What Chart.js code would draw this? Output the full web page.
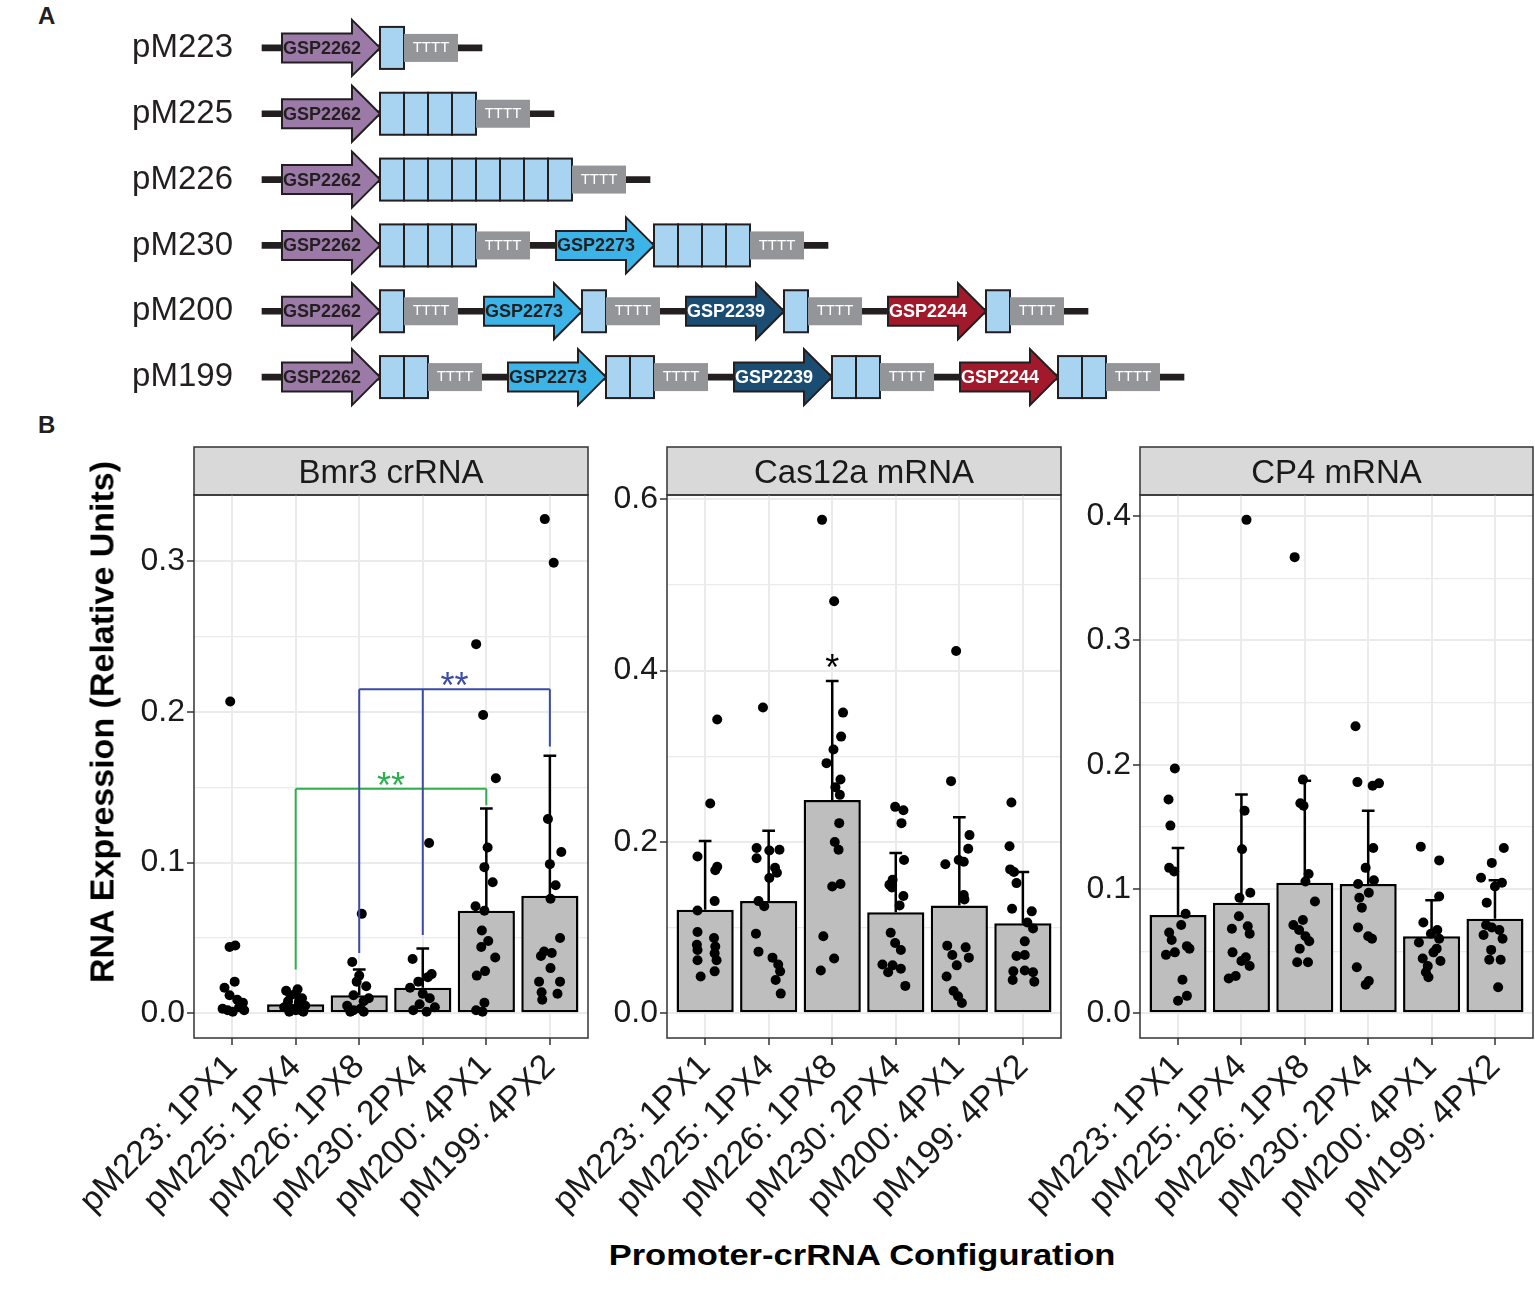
<!DOCTYPE html>
<html>
<head>
<meta charset="utf-8">
<script src="https://cdn.jsdelivr.net/npm/chart.js@4.4.1/dist/chart.umd.min.js"></script>
<style>
  body { margin: 0; background: #fff; width: 1535px; height: 1293px; position: relative; overflow: hidden;
         font-family: 'Liberation Sans', Arial, Helvetica, sans-serif; }
  .wrap { position: absolute; }
  .tag { position: absolute; font-weight: bold; font-size: 24px; line-height: 24px; color: #231f20; }
  #ytitle { position: absolute; left: 102px; top: 722px; transform: translate(-50%, -50%) rotate(-90deg);
            font-weight: bold; font-size: 34px; white-space: nowrap; color: #000; }
  #xtitle { position: absolute; left: 862px; top: 1240px; line-height: 30px; transform: translateX(-50%) scaleX(1.15);
            font-weight: bold; font-size: 30px; white-space: nowrap; color: #000; }
</style>
</head>
<body>
<div class="tag" style="left:38px;top:4px">A</div>
<div class="tag" style="left:38px;top:413px">B</div>
<div class="wrap" style="left:0;top:0;width:1535px;height:411px"><canvas id="constructs"></canvas></div>
<div class="wrap" style="left:54px;top:440px;width:539px;height:785px"><canvas id="bmr3"></canvas></div>
<div class="wrap" style="left:527px;top:440px;width:539px;height:785px"><canvas id="cas12a"></canvas></div>
<div class="wrap" style="left:1000px;top:440px;width:538px;height:785px"><canvas id="cp4"></canvas></div>
<div id="ytitle">RNA Expression (Relative Units)</div>
<div id="xtitle">Promoter-crRNA Configuration</div>
<script>
// ---- panel A: constructs ----
const constructs = ['pM223', 'pM225', 'pM226', 'pM230', 'pM200', 'pM199'];
const constructPromoters = [
  ['GSP2262'],
  ['GSP2262'],
  ['GSP2262'],
  ['GSP2262', 'GSP2273'],
  ['GSP2262', 'GSP2273', 'GSP2239', 'GSP2244'],
  ['GSP2262', 'GSP2273', 'GSP2239', 'GSP2244']
];
const constructRepeats = [[1], [4], [8], [4, 4], [1, 1, 1, 1], [2, 2, 2, 2]];
const terminatorText = 'TTTT';

// ---- panel B: expression ----
const configs = ['pM223: 1PX1', 'pM225: 1PX4', 'pM226: 1PX8', 'pM230: 2PX4', 'pM200: 4PX1', 'pM199: 4PX2'];

const bmr3Mean = [null, 0.006, 0.012, 0.017, 0.068, 0.078];
const bmr3Upper = [null, 0.011, 0.029, 0.043, 0.136, 0.171];
// each point: [jitter offset, value]
const bmr3Points = [
  [[-0.03,0.207],[0.05,0.045],[-0.04,0.044],[0.04,0.021],[-0.12,0.017],[-0.04,0.012],[0.08,0.009],[0.17,0.007],[0.11,0.004],[-0.15,0.003],[-0.07,0.002],[0.19,0.002],[0.01,0.001]],
  [[-0.15,0.015],[0.03,0.016],[0.0,0.013],[-0.08,0.012],[0.1,0.010],[-0.12,0.008],[0.05,0.007],[0.15,0.005],[-0.18,0.004],[-0.05,0.003],[0.08,0.002],[-0.1,0.001],[0.12,0.001],[0.0,0.002]],
  [[0.04,0.066],[-0.11,0.034],[0.0,0.025],[-0.04,0.021],[0.11,0.018],[-0.09,0.012],[0.15,0.010],[0.07,0.008],[-0.19,0.005],[0.02,0.003],[-0.09,0.002],[0.07,0.001],[-0.14,0.001]],
  [[0.1,0.113],[-0.16,0.036],[0.14,0.026],[0.08,0.024],[-0.07,0.021],[-0.2,0.017],[0.0,0.013],[0.11,0.010],[-0.05,0.006],[0.19,0.004],[-0.15,0.002],[0.06,0.001]],
  [[-0.16,0.245],[-0.05,0.198],[0.15,0.156],[0.02,0.110],[-0.03,0.097],[0.1,0.087],[-0.17,0.071],[-0.03,0.068],[-0.07,0.055],[0.03,0.048],[-0.08,0.044],[0.14,0.037],[-0.02,0.028],[-0.15,0.025],[-0.03,0.007],[-0.16,0.002],[-0.06,0.001]],
  [[-0.08,0.328],[0.06,0.299],[-0.03,0.129],[0.18,0.107],[0.0,0.099],[0.09,0.085],[0.01,0.076],[0.16,0.050],[-0.09,0.041],[0.03,0.040],[-0.14,0.038],[0.01,0.030],[-0.17,0.021],[0.16,0.021],[-0.13,0.014],[0.12,0.013],[-0.12,0.009]]
];
const bmr3Ticks = [0, 0.05, 0.1, 0.15, 0.2, 0.25, 0.3];
const bmr3Range = [-0.0164, 0.344];
const bmr3SigHeights = [0.149, 0.215];
const bmr3SigLegs = [[[2, 0.029], [5, 0.138]], [[3, 0.040], [4, 0.052], [6, 0.177]]];
const bmr3SigText = ['**', '**'];
const bmr3SigTextAt = [3.5, 4.5];

const cas12aMean = [0.121, 0.131, 0.249, 0.118, 0.126, 0.105];
const cas12aUpper = [0.201, 0.213, 0.388, 0.187, 0.229, 0.165];
const cas12aPoints = [
  [[0.19,0.343],[0.08,0.245],[-0.12,0.183],[0.19,0.171],[0.16,0.167],[0.15,0.131],[-0.12,0.120],[-0.12,0.095],[0.14,0.088],[-0.13,0.080],[0.16,0.078],[-0.12,0.074],[0.15,0.070],[-0.12,0.062],[0.18,0.062],[0.15,0.049],[-0.07,0.043]],
  [[-0.09,0.357],[-0.19,0.193],[0.01,0.190],[0.17,0.191],[-0.19,0.181],[0.1,0.170],[0.13,0.164],[0.01,0.158],[-0.16,0.131],[-0.07,0.125],[-0.2,0.093],[-0.16,0.072],[0.06,0.065],[0.15,0.057],[0.18,0.049],[0.11,0.039],[0.19,0.023]],
  [[-0.16,0.576],[0.03,0.481],[0.17,0.351],[0.14,0.323],[0.02,0.308],[-0.09,0.292],[0.13,0.273],[0.05,0.264],[0.12,0.255],[0.11,0.222],[0.04,0.200],[0.10,0.191],[0.13,0.151],[0.0,0.148],[-0.14,0.090],[0.03,0.064],[-0.18,0.050]],
  [[-0.01,0.241],[0.12,0.237],[0.09,0.222],[0.13,0.179],[-0.05,0.156],[-0.10,0.150],[-0.06,0.147],[0.12,0.137],[0.06,0.126],[-0.08,0.094],[-0.01,0.082],[0.08,0.074],[-0.21,0.057],[-0.05,0.056],[0.08,0.052],[-0.12,0.048],[0.15,0.032]],
  [[-0.05,0.423],[-0.13,0.271],[0.16,0.208],[0.14,0.192],[-0.01,0.179],[0.07,0.177],[-0.22,0.174],[0.07,0.138],[0.08,0.133],[-0.19,0.079],[0.10,0.077],[-0.11,0.068],[0.15,0.065],[-0.04,0.056],[-0.20,0.043],[-0.09,0.026],[-0.02,0.020],[0.04,0.012]],
  [[-0.18,0.246],[-0.21,0.195],[-0.20,0.168],[-0.14,0.165],[-0.10,0.152],[-0.17,0.122],[0.14,0.119],[0.07,0.106],[0.16,0.099],[0.03,0.084],[-0.10,0.067],[0.03,0.068],[-0.15,0.049],[0.03,0.050],[0.16,0.048],[-0.16,0.039],[0.18,0.037]]
];
const cas12aTicks = [0, 0.1, 0.2, 0.3, 0.4, 0.5, 0.6];
const cas12aRange = [-0.0288, 0.605];
const cas12aStarCats = [3];
const cas12aStarAt = [0.40];
const cas12aStarText = ['*'];

const cp4Mean = [0.079, 0.089, 0.105, 0.104, 0.062, 0.076];
const cp4Upper = [0.133, 0.176, 0.187, 0.163, 0.091, 0.107];
const cp4Points = [
  [[-0.05,0.197],[-0.15,0.172],[-0.12,0.151],[-0.14,0.117],[-0.06,0.114],[0.12,0.080],[0.05,0.071],[-0.14,0.065],[-0.10,0.059],[0.14,0.054],[0.18,0.052],[-0.05,0.049],[-0.19,0.047],[0.07,0.027],[0.14,0.014],[0.0,0.010]],
  [[0.08,0.397],[0.05,0.163],[0.01,0.132],[0.14,0.097],[-0.03,0.093],[-0.04,0.078],[0.10,0.070],[-0.15,0.068],[0.13,0.064],[-0.14,0.049],[0.07,0.045],[0.0,0.042],[0.13,0.038],[-0.09,0.030],[-0.20,0.028]],
  [[-0.16,0.367],[-0.03,0.188],[-0.07,0.169],[-0.02,0.167],[0.06,0.112],[0.01,0.106],[0.16,0.090],[-0.03,0.075],[-0.18,0.071],[-0.09,0.067],[0.01,0.062],[0.07,0.058],[-0.08,0.052],[-0.12,0.041],[0.05,0.041]],
  [[-0.20,0.231],[-0.17,0.186],[0.07,0.183],[0.17,0.185],[0.08,0.133],[-0.04,0.117],[0.09,0.107],[-0.16,0.104],[0.01,0.097],[-0.14,0.093],[-0.10,0.085],[-0.16,0.069],[0.0,0.062],[0.06,0.060],[-0.18,0.037],[0.01,0.026],[-0.04,0.023]],
  [[-0.17,0.134],[0.12,0.123],[0.12,0.094],[-0.13,0.073],[0.09,0.067],[-0.01,0.064],[0.12,0.060],[-0.20,0.057],[0.08,0.052],[0.03,0.049],[-0.14,0.044],[0.14,0.042],[-0.06,0.038],[-0.09,0.033],[-0.05,0.029]],
  [[0.14,0.133],[-0.05,0.121],[-0.22,0.109],[0.11,0.105],[0.0,0.102],[-0.13,0.089],[-0.14,0.071],[-0.05,0.069],[0.07,0.067],[-0.18,0.063],[0.12,0.060],[-0.06,0.051],[-0.09,0.043],[0.09,0.043],[0.05,0.021]]
];
const cp4Ticks = [0, 0.05, 0.1, 0.15, 0.2, 0.25, 0.3, 0.35, 0.4];
const cp4Range = [-0.0199, 0.417];

// ---- styles ----
const FONT = "'Liberation Sans', Arial, Helvetica, sans-serif";
Chart.defaults.font.family = FONT;
Chart.defaults.color = '#1a1a1a';

const promoterFill = { GSP2262: '#9b7aa7', GSP2273: '#3cb4e7', GSP2239: '#1b4d72', GSP2244: '#a1192b' };
const promoterInk = { GSP2262: '#231f20', GSP2273: '#231f20', GSP2239: '#ffffff', GSP2244: '#ffffff' };
const sigColors = ['#2fae4e', '#3b4ba6'];
const INK = '#231f20';

// construct element sizes (x scale units)
const START = 12, LEAD = 20, ARROW = 98, HEAD = 28, BOX = 24, TERM = 54, LINK = 26, TAIL = 24;

function layoutConstruct(r) {
  const items = [];
  let x = START + LEAD;
  constructPromoters[r].forEach((p, k) => {
    if (k > 0) x += LINK;
    items.push({ kind: 'promoter', name: p, x0: x, x1: x + ARROW });
    x += ARROW;
    for (let b = 0; b < constructRepeats[r][k]; b++) {
      items.push({ kind: 'box', x0: x, x1: x + BOX });
      x += BOX;
    }
    items.push({ kind: 'term', x0: x, x1: x + TERM });
    x += TERM;
  });
  return { start: START, end: x + TAIL, items };
}

const constructDraw = {
  id: 'constructDraw',
  afterDatasetsDraw(chart) {
    const { ctx } = chart;
    const xs = chart.scales.x, ys = chart.scales.y;
    const u = v => xs.getPixelForValue(v);
    ctx.save();
    ctx.lineJoin = 'miter';
    constructs.forEach((name, r) => {
      const cy = ys.getPixelForValue(r);
      layoutConstruct(r).items.forEach(it => {
        const a = u(it.x0), b = u(it.x1);
        if (it.kind === 'promoter') {
          const h = u(it.x1 - HEAD);
          ctx.beginPath();
          ctx.moveTo(a, cy - 14.5);
          ctx.lineTo(h, cy - 14.5);
          ctx.lineTo(h, cy - 28);
          ctx.lineTo(b, cy);
          ctx.lineTo(h, cy + 28);
          ctx.lineTo(h, cy + 14.5);
          ctx.lineTo(a, cy + 14.5);
          ctx.closePath();
          ctx.fillStyle = promoterFill[it.name];
          ctx.fill();
          ctx.strokeStyle = INK;
          ctx.lineWidth = 2;
          ctx.stroke();
          ctx.fillStyle = promoterInk[it.name];
          ctx.font = 'bold 18px ' + FONT;
          ctx.textAlign = 'center';
          ctx.textBaseline = 'middle';
          ctx.fillText(it.name, u(it.x0 + 40), cy + 1);
        } else if (it.kind === 'box') {
          ctx.fillStyle = '#a9d4f1';
          ctx.fillRect(a, cy - 21, b - a, 42);
          ctx.strokeStyle = INK;
          ctx.lineWidth = 2;
          ctx.strokeRect(a, cy - 21, b - a, 42);
        } else {
          ctx.fillStyle = '#939598';
          ctx.fillRect(a, cy - 14, b - a, 28);
          ctx.fillStyle = '#ffffff';
          ctx.font = '15px ' + FONT;
          ctx.textAlign = 'center';
          ctx.textBaseline = 'middle';
          ctx.fillText(terminatorText, (a + b) / 2, cy);
        }
      });
    });
    ctx.restore();
  }
};

new Chart(document.getElementById('constructs'), {
  type: 'bar',
  data: {
    labels: constructs,
    datasets: [{
      data: constructs.map((c, r) => { const l = layoutConstruct(r); return [l.start, l.end]; }),
      backgroundColor: INK,
      barThickness: 6
    }]
  },
  options: {
    indexAxis: 'y',
    responsive: true,
    maintainAspectRatio: false,
    animation: false,
    layout: { padding: { top: 15, bottom: 1 } },
    scales: {
      x: { type: 'linear', min: 0, max: 1285, display: false },
      y: {
        type: 'category',
        grid: { display: false, drawTicks: false },
        border: { display: false },
        ticks: { font: { size: 33 }, color: INK, padding: 17 },
        afterFit: s => { s.width = 250; s.paddingTop = 0; s.paddingBottom = 0; }
      }
    },
    plugins: { legend: { display: false }, tooltip: { enabled: false } }
  },
  plugins: [constructDraw]
});

// ---- facet panels ----
const panelDecor = {
  id: 'panelDecor',
  beforeDraw(chart, args, opts) {
    const { ctx, chartArea: a } = chart;
    ctx.save();
    ctx.fillStyle = '#d9d9d9';
    ctx.fillRect(a.left, a.top - 48, a.right - a.left, 48);
    ctx.strokeStyle = '#333333';
    ctx.lineWidth = 1.5;
    ctx.strokeRect(a.left, a.top - 48, a.right - a.left, 48);
    ctx.fillStyle = '#1a1a1a';
    ctx.font = '33px ' + FONT;
    ctx.textAlign = 'center';
    ctx.textBaseline = 'alphabetic';
    ctx.fillText(opts.title, (a.left + a.right) / 2, a.top - 12);
    ctx.restore();
  },
  afterDatasetDraw(chart, args, opts) {
    if (args.meta.type !== 'bar') return;
    const { ctx } = chart;
    const xs = chart.scales.x, ys = chart.scales.y;
    const hw = xs.getPixelForValue(1.1) - xs.getPixelForValue(1);
    ctx.save();
    ctx.strokeStyle = '#000';
    ctx.lineWidth = 2.5;
    opts.mean.forEach((m, i) => {
      if (m === null) return;
      const px = xs.getPixelForValue(i + 1);
      const p0 = ys.getPixelForValue(m), p1 = ys.getPixelForValue(opts.upper[i]);
      ctx.beginPath();
      ctx.moveTo(px, p0);
      ctx.lineTo(px, p1);
      ctx.moveTo(px - hw, p1);
      ctx.lineTo(px + hw, p1);
      ctx.stroke();
    });
    ctx.restore();
  },
  afterDraw(chart, args, opts) {
    const { ctx, chartArea: a } = chart;
    const xs = chart.scales.x, ys = chart.scales.y;
    ctx.save();
    (opts.sigHeights || []).forEach((h, k) => {
      const yb = ys.getPixelForValue(h);
      const legs = opts.sigLegs[k];
      const px = legs.map(l => xs.getPixelForValue(l[0]));
      ctx.strokeStyle = opts.sigColors[k];
      ctx.lineWidth = 2;
      ctx.beginPath();
      ctx.moveTo(Math.min(...px), yb);
      ctx.lineTo(Math.max(...px), yb);
      legs.forEach((l, j) => {
        ctx.moveTo(px[j], yb);
        ctx.lineTo(px[j], ys.getPixelForValue(l[1]));
      });
      ctx.stroke();
      ctx.fillStyle = opts.sigColors[k];
      ctx.font = '36px ' + FONT;
      ctx.textAlign = 'center';
      ctx.textBaseline = 'alphabetic';
      ctx.fillText(opts.sigText[k], xs.getPixelForValue(opts.sigTextAt[k]), yb + 9);
    });
    (opts.starCats || []).forEach((c, k) => {
      ctx.fillStyle = '#000';
      ctx.font = '36px ' + FONT;
      ctx.textAlign = 'center';
      ctx.textBaseline = 'alphabetic';
      ctx.fillText(opts.starText[k], xs.getPixelForValue(c), ys.getPixelForValue(opts.starAt[k]) + 9);
    });
    ctx.strokeStyle = '#333333';
    ctx.lineWidth = 1.5;
    ctx.strokeRect(a.left, a.top, a.right - a.left, a.bottom - a.top);
    ctx.restore();
  }
};

function makePanel(id, title, mean, upper, points, yTicks, yRange, notes) {
  const bars = mean.map((m, i) => ({ x: i + 1, y: m })).filter(d => d.y !== null);
  const dots = [];
  points.forEach((grp, i) => grp.forEach(([dx, v]) => dots.push({ x: i + 1 + dx, y: v })));
  new Chart(document.getElementById(id), {
    type: 'scatter',
    data: {
      datasets: [
        { type: 'bar', data: bars, backgroundColor: '#bebebe', borderColor: '#000', borderWidth: 2.5,
          borderSkipped: false, barPercentage: 0.9, categoryPercentage: 1, order: 2 },
        { type: 'scatter', data: dots, pointRadius: 5, pointHoverRadius: 5, pointBackgroundColor: '#000',
          pointBorderWidth: 0, order: 1 }
      ]
    },
    options: {
      responsive: true,
      maintainAspectRatio: false,
      animation: false,
      layout: { padding: { top: 55, right: 2 } },
      scales: {
        x: {
          type: 'linear', min: 0.4, max: 6.6, offset: false,
          afterBuildTicks: s => { s.ticks = configs.map((c, i) => ({ value: i + 1 })); },
          afterFit: s => { s.height = 187; s.paddingLeft = 0; s.paddingRight = 0; },
          ticks: { callback: (v, i) => configs[i], font: { size: 34 }, color: '#1a1a1a',
                   minRotation: 45, maxRotation: 45, autoSkip: false, padding: 2 },
          grid: { offset: false, color: '#ebebeb', lineWidth: 2, tickColor: '#333333', tickLength: 7, tickWidth: 1.5 },
          border: { display: false }
        },
        y: {
          type: 'linear', min: yRange[0], max: yRange[1],
          afterBuildTicks: s => { s.ticks = yTicks.map(v => ({ value: v })); },
          afterFit: s => { s.width = 140; },
          ticks: { callback: (v, i) => (i % 2 ? '' : v.toFixed(1)), font: { size: 32 }, color: '#1a1a1a', padding: 2 },
          grid: {
            color: '#ebebeb',
            lineWidth: c => (c.index % 2 ? 1.2 : 2),
            tickColor: c => (c.index % 2 ? 'rgba(0,0,0,0)' : '#333333'),
            tickLength: 7, tickWidth: 1.5
          },
          border: { display: false }
        }
      },
      plugins: {
        legend: { display: false },
        tooltip: { enabled: false },
        panelDecor: Object.assign({ title, mean, upper }, notes)
      }
    },
    plugins: [panelDecor]
  });
}

makePanel('bmr3', 'Bmr3 crRNA', bmr3Mean, bmr3Upper, bmr3Points, bmr3Ticks, bmr3Range, {
  sigHeights: bmr3SigHeights, sigLegs: bmr3SigLegs, sigText: bmr3SigText, sigTextAt: bmr3SigTextAt, sigColors
});
makePanel('cas12a', 'Cas12a mRNA', cas12aMean, cas12aUpper, cas12aPoints, cas12aTicks, cas12aRange, {
  starCats: cas12aStarCats, starAt: cas12aStarAt, starText: cas12aStarText
});
makePanel('cp4', 'CP4 mRNA', cp4Mean, cp4Upper, cp4Points, cp4Ticks, cp4Range, {});
</script>
</body>
</html>
